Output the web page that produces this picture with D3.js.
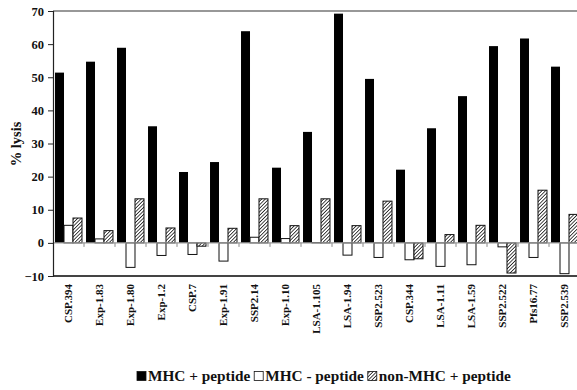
<!DOCTYPE html>
<html>
<head>
<meta charset="utf-8">
<script src="https://cdn.jsdelivr.net/npm/d3@7"></script>
<style>
  body { margin: 0; background: #fff; }
  svg { display: block; }
  text { font-family: "Liberation Serif", "DejaVu Serif", serif; font-weight: bold; fill: #111; }
</style>
</head>
<body>
<div id="chart"></div>
<script>
const peptides = ["CSP.394", "Exp-1.83", "Exp-1.80", "Exp-1.2", "CSP.7", "Exp-1.91", "SSP2.14",
  "Exp-1.10", "LSA-1.105", "LSA-1.94", "SSP2.523", "CSP.344", "LSA-1.11", "LSA-1.59",
  "SSP2.522", "Pfs16.77", "SSP2.539"];
const mhcPlus = [51.4, 54.7, 58.9, 35.2, 21.4, 24.4, 63.9, 22.7, 33.5, 69.2, 49.5, 22.1, 34.6, 44.3, 59.4, 61.7, 53.2];
const mhcMinus = [5.3, 1.2, -7.4, -3.8, -3.5, -5.5, 1.7, 1.3, 0.1, -3.7, -4.4, -5.1, -7.1, -6.6, -1.2, -4.4, -9.3];
const nonMhc = [7.5, 3.7, 13.3, 4.5, -1.0, 4.4, 13.3, 5.2, 13.3, 5.2, 12.6, -4.8, 2.5, 5.3, -9.1, 15.9, 8.6];
const series = ["MHC + peptide", "MHC - peptide", "non-MHC + peptide"];
const yTicks = [-10, 0, 10, 20, 30, 40, 50, 60, 70];

const width = 577, height = 390;
const plotLeft = 53, plotRight = 580, plotTop = 11, plotBottom = 276;

const svg = d3.select("#chart").append("svg")
  .attr("width", width).attr("height", height);

// diagonal hatch for the non-MHC series
const defs = svg.append("defs");
const pat = defs.append("pattern")
  .attr("id", "hatch").attr("patternUnits", "userSpaceOnUse")
  .attr("width", 2.5).attr("height", 2.5)
  .attr("patternTransform", "rotate(45)");
pat.append("rect").attr("width", 2.5).attr("height", 2.5).attr("fill", "#fff");
pat.append("line").attr("x1", 0).attr("y1", 0).attr("x2", 0).attr("y2", 2.5)
  .attr("stroke", "#1a1a1a").attr("stroke-width", 1.6);

const x0 = d3.scaleBand().domain(peptides).range([plotLeft, plotRight])
  .paddingInner(0.13).paddingOuter(0.065);
const x1 = d3.scaleBand().domain(series).range([0, x0.bandwidth()]);
const y = d3.scaleLinear().domain([-10, 70]).range([plotBottom, plotTop]);

const fills = ["#000", "#fff", "url(#hatch)"];
const rows = peptides.map((p, i) => ({ p, v: [mhcPlus[i], mhcMinus[i], nonMhc[i]] }));

// frame
svg.append("line").attr("x1", plotLeft).attr("x2", width).attr("y1", plotTop).attr("y2", plotTop)
  .attr("stroke", "#333").attr("stroke-width", 1.2);
svg.append("line").attr("x1", plotLeft).attr("x2", width).attr("y1", plotBottom).attr("y2", plotBottom)
  .attr("stroke", "#444").attr("stroke-width", 2);

// bars
const g = svg.selectAll("g.grp").data(rows).enter().append("g")
  .attr("transform", d => `translate(${x0(d.p)},0)`);
g.selectAll("rect").data(d => d.v.map((v, k) => ({ v, k }))).enter().append("rect")
  .attr("x", d => x1(series[d.k]))
  .attr("width", x1.bandwidth())
  .attr("y", d => y(Math.max(0, d.v)))
  .attr("height", d => Math.abs(y(d.v) - y(0)))
  .attr("fill", d => fills[d.k])
  .attr("stroke", d => d.k === 0 ? "none" : "#111")
  .attr("stroke-width", 1);

// zero line with category ticks
svg.append("line").attr("x1", plotLeft).attr("x2", width).attr("y1", y(0)).attr("y2", y(0))
  .attr("stroke", "#999").attr("stroke-width", 1.2);
svg.selectAll("line.ct").data(peptides.slice(1)).enter().append("line")
  .attr("x1", d => x0(d) - x0.step() * x0.paddingInner() / 2)
  .attr("x2", d => x0(d) - x0.step() * x0.paddingInner() / 2)
  .attr("y1", y(0)).attr("y2", y(0) + 4)
  .attr("stroke", "#888");

// y axis
const ya = svg.append("g").attr("transform", `translate(${plotLeft},0)`)
  .call(d3.axisLeft(y).tickValues(yTicks).tickSize(5).tickPadding(4));
ya.select(".domain").attr("stroke", "#222").attr("stroke-width", 1.2);
ya.selectAll(".tick line").attr("stroke", "#222");
ya.selectAll(".tick text").attr("font-size", 12.5).attr("font-family", "Liberation Serif, serif")
  .attr("font-weight", "bold").attr("fill", "#111");

svg.append("text")
  .attr("transform", "translate(21,144) rotate(-90)")
  .attr("text-anchor", "middle")
  .attr("font-size", 14.5)
  .text("% lysis");

// x labels
svg.selectAll("text.xl").data(peptides).enter().append("text")
  .attr("transform", d => `translate(${x0(d) + x0.bandwidth() / 2},284) rotate(-90)`)
  .attr("text-anchor", "end")
  .attr("dy", "0.36em")
  .attr("font-size", 11)
  .text(d => d);

// legend
const leg = svg.append("g").attr("transform", "translate(137,381)");
let lx = 0;
series.forEach((s, k) => {
  leg.append("rect").attr("x", lx).attr("y", -9.5).attr("width", 9).attr("height", 9)
    .attr("fill", fills[k]).attr("stroke", "#111").attr("stroke-width", 0.8);
  const t = leg.append("text").attr("x", lx + 11).attr("y", 0)
    .attr("font-size", 15.3).text(s);
  lx += 11 + t.node().getComputedTextLength() + 4;
});
</script>
</body>
</html>
